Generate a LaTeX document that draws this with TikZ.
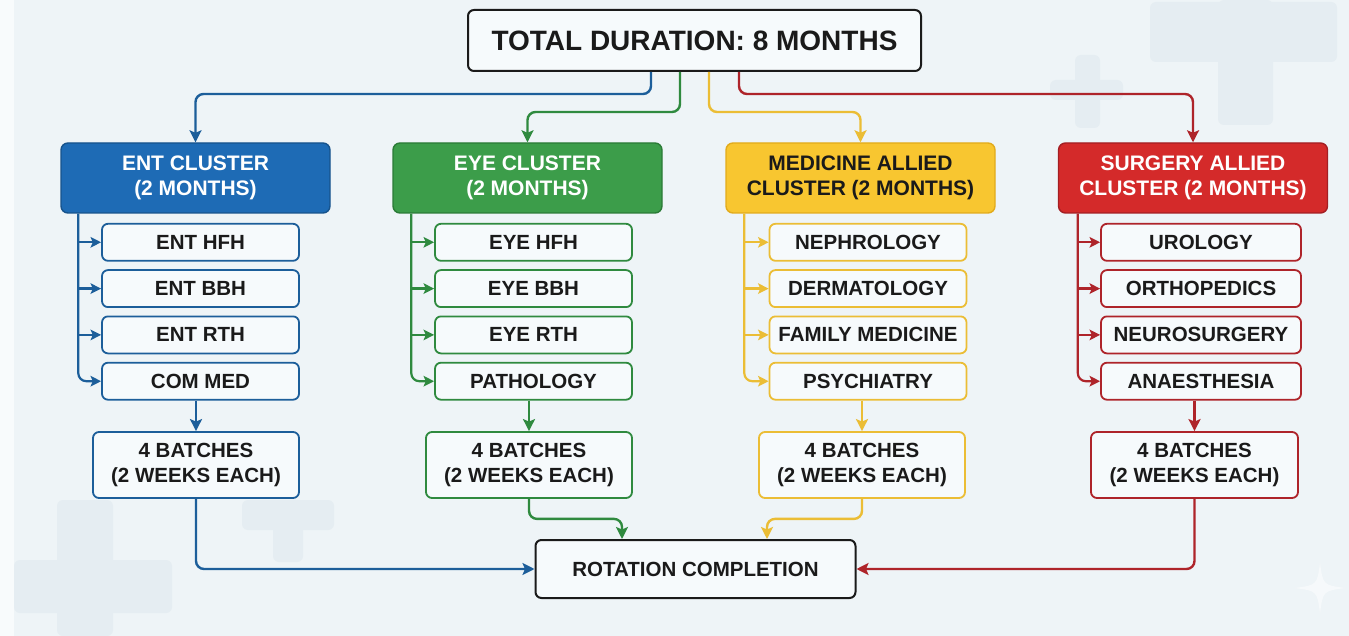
\documentclass[tikz,border=0pt]{standalone}
\usepackage{fontspec}
\setmainfont{Liberation Sans}
\usetikzlibrary{arrows.meta}

% palette
\definecolor{bgcol}{HTML}{EEF4F7}
\definecolor{decocol}{HTML}{E5EDF2}
\definecolor{itemfill}{HTML}{F6FAFC}
\definecolor{txt}{HTML}{1A1A1A}
\definecolor{entfill}{HTML}{1E6BB5}
\definecolor{entdark}{HTML}{17538C}
\definecolor{entline}{HTML}{1C5E9A}
\definecolor{eyefill}{HTML}{3C9D4A}
\definecolor{eyedark}{HTML}{2B7B37}
\definecolor{eyeline}{HTML}{2F8A3F}
\definecolor{medfill}{HTML}{F8C630}
\definecolor{meddark}{HTML}{E2AB1C}
\definecolor{medline}{HTML}{EBBD35}
\definecolor{surfill}{HTML}{D42A2A}
\definecolor{surdark}{HTML}{A31E23}
\definecolor{surline}{HTML}{AE242A}

\tikzset{
  conn/.style={line width=2.4pt, rounded corners=8pt,
    -{Stealth[length=12pt,width=12pt,inset=2.5pt]}},
  branch/.style={line width=2.2pt,
    -{Stealth[length=10.5pt,width=10.5pt,inset=2.2pt]}},
  spine/.style={line width=2.2pt, rounded corners=8pt,
    -{Stealth[length=10.5pt,width=10.5pt,inset=2.2pt]}},
  clusterbox/.style={rectangle, rounded corners=7pt, line width=1.4pt,
    minimum width=269pt, minimum height=70pt, align=center, inner sep=0pt,
    font=\fontsize{21}{24.5}\selectfont\bfseries},
  itembox/.style={rectangle, rounded corners=6pt, line width=1.8pt,
    fill=itemfill, minimum width=197pt, minimum height=37pt, inner sep=0pt,
    text=txt, font=\fontsize{20.5}{24}\selectfont\bfseries},
  batchbox/.style={rectangle, rounded corners=6pt, line width=1.8pt,
    fill=itemfill, minimum width=206pt, minimum height=66pt, inner sep=0pt,
    align=center, text=txt, font=\fontsize{20.5}{25.5}\selectfont\bfseries},
  finalbox/.style={rectangle, rounded corners=6pt, line width=2pt,
    draw=txt, fill=itemfill, inner sep=0pt, text=txt},
  deco/.style={fill=decocol, rounded corners=6pt},
}

\begin{document}
\begin{tikzpicture}[x=1pt,y=-1pt]
\useasboundingbox (0,0) rectangle (1349,636);

% background
\fill[bgcol] (0,0) rectangle (1349,636);
\fill[white!60!bgcol] (0,0) rectangle (14,636);

% faint medical crosses
\fill[deco] (1150,2) rectangle (1337,62);
\fill[deco] (1218,0) rectangle (1273,125);
\fill[deco] (1050,80) rectangle (1123,100);
\fill[deco] (1075,55) rectangle (1100,128);
\fill[deco] (14,560) rectangle (172,613);
\fill[deco] (57,500) rectangle (113,636);
\fill[deco] (242,500) rectangle (334,530);
\fill[deco] (273,500) rectangle (303,562);

% sparkle
\fill[white, opacity=0.5] (1320,563) .. controls (1323,585) .. (1345,588)
  .. controls (1323,591) .. (1320,613) .. controls (1317,591) .. (1295,588)
  .. controls (1317,585) .. (1320,563) -- cycle;

% title
\node[finalbox, minimum width=453pt, minimum height=61pt,
  font=\fontsize{28}{32}\selectfont\bfseries] (total) at (694.5,40.5)
  {TOTAL DURATION: 8 MONTHS};

% clusters
\node[clusterbox, fill=entfill, draw=entdark, text=white] (ent) at (195.5,178)
  {ENT CLUSTER\\(2 MONTHS)};
\node[clusterbox, fill=eyefill, draw=eyedark, text=white] (eye) at (527.5,178)
  {EYE CLUSTER\\(2 MONTHS)};
\node[clusterbox, fill=medfill, draw=meddark, text=txt] (med) at (860.5,178)
  {MEDICINE ALLIED\\CLUSTER (2 MONTHS)};
\node[clusterbox, fill=surfill, draw=surdark, text=white] (sur) at (1193,178)
  {SURGERY ALLIED\\CLUSTER (2 MONTHS)};

% postings of each cluster
\foreach \lbl [count=\i] in {ENT HFH, ENT BBH, ENT RTH, COM MED}
  \node[itembox, draw=entline] (ent\i) at (200.5,196+46.3*\i) {\lbl};
\foreach \lbl [count=\i] in {EYE HFH, EYE BBH, EYE RTH, PATHOLOGY}
  \node[itembox, draw=eyeline] (eye\i) at (533.5,196+46.3*\i) {\lbl};
\foreach \lbl [count=\i] in {NEPHROLOGY, DERMATOLOGY, FAMILY MEDICINE, PSYCHIATRY}
  \node[itembox, draw=medline] (med\i) at (868,196+46.3*\i) {\lbl};
\foreach \lbl [count=\i] in {UROLOGY, ORTHOPEDICS, NEUROSURGERY, ANAESTHESIA}
  \node[itembox, draw=surline, minimum width=200pt] (sur\i) at (1201,196+46.3*\i) {\lbl};

% batches
\node[batchbox, draw=entline] (entb) at (196,465) {4 BATCHES\\(2 WEEKS EACH)};
\node[batchbox, draw=eyeline] (eyeb) at (529,465) {4 BATCHES\\(2 WEEKS EACH)};
\node[batchbox, draw=medline] (medb) at (862,465) {4 BATCHES\\(2 WEEKS EACH)};
\node[batchbox, draw=surline, minimum width=207pt] (surb) at (1194.5,465) {4 BATCHES\\(2 WEEKS EACH)};

% completion
\node[finalbox, minimum width=320pt, minimum height=58pt,
  font=\fontsize{20.5}{24}\selectfont\bfseries] (rot) at (695.5,569)
  {ROTATION COMPLETION};

% from the total duration to each cluster
\draw[conn, entline] ([xshift=-43.5pt]total.south) -- ++(0,22) -| (ent.north);
\draw[conn, eyeline] ([xshift=-14.5pt]total.south) -- ++(0,40) -| (eye.north);
\draw[conn, medline] ([xshift=14.5pt]total.south) -- ++(0,40) -| (med.north);
\draw[conn, surline] ([xshift=44.5pt]total.south) -- ++(0,22) -| (sur.north);

% spines feeding the postings
\coordinate (entsp) at ([xshift=18pt]ent.south west);
\coordinate (eyesp) at ([xshift=19pt]eye.south west);
\coordinate (medsp) at ([xshift=19pt]med.south west);
\coordinate (sursp) at ([xshift=20pt]sur.south west);
\foreach \c/\col in {ent/entline, eye/eyeline, med/medline, sur/surline}{
  \draw[spine, \col] (\c sp) |- (\c4.west);
  \foreach \i in {1,2,3}
    \draw[branch, \col] (\c sp |- \c\i.west) -- (\c\i.west);
  \draw[conn, \col] (\c4.south -| \c b.north) -- (\c b.north);
}

% batches to completion
\draw[conn, entline] (entb.south) |- (rot.west);
\draw[conn, eyeline] (eyeb.south) -- ++(0,20) -| ([xshift=-73.5pt]rot.north);
\draw[conn, medline] (medb.south) -- ++(0,20) -| ([xshift=71.5pt]rot.north);
\draw[conn, surline] (surb.south) |- (rot.east);
\end{tikzpicture}
\end{document}
